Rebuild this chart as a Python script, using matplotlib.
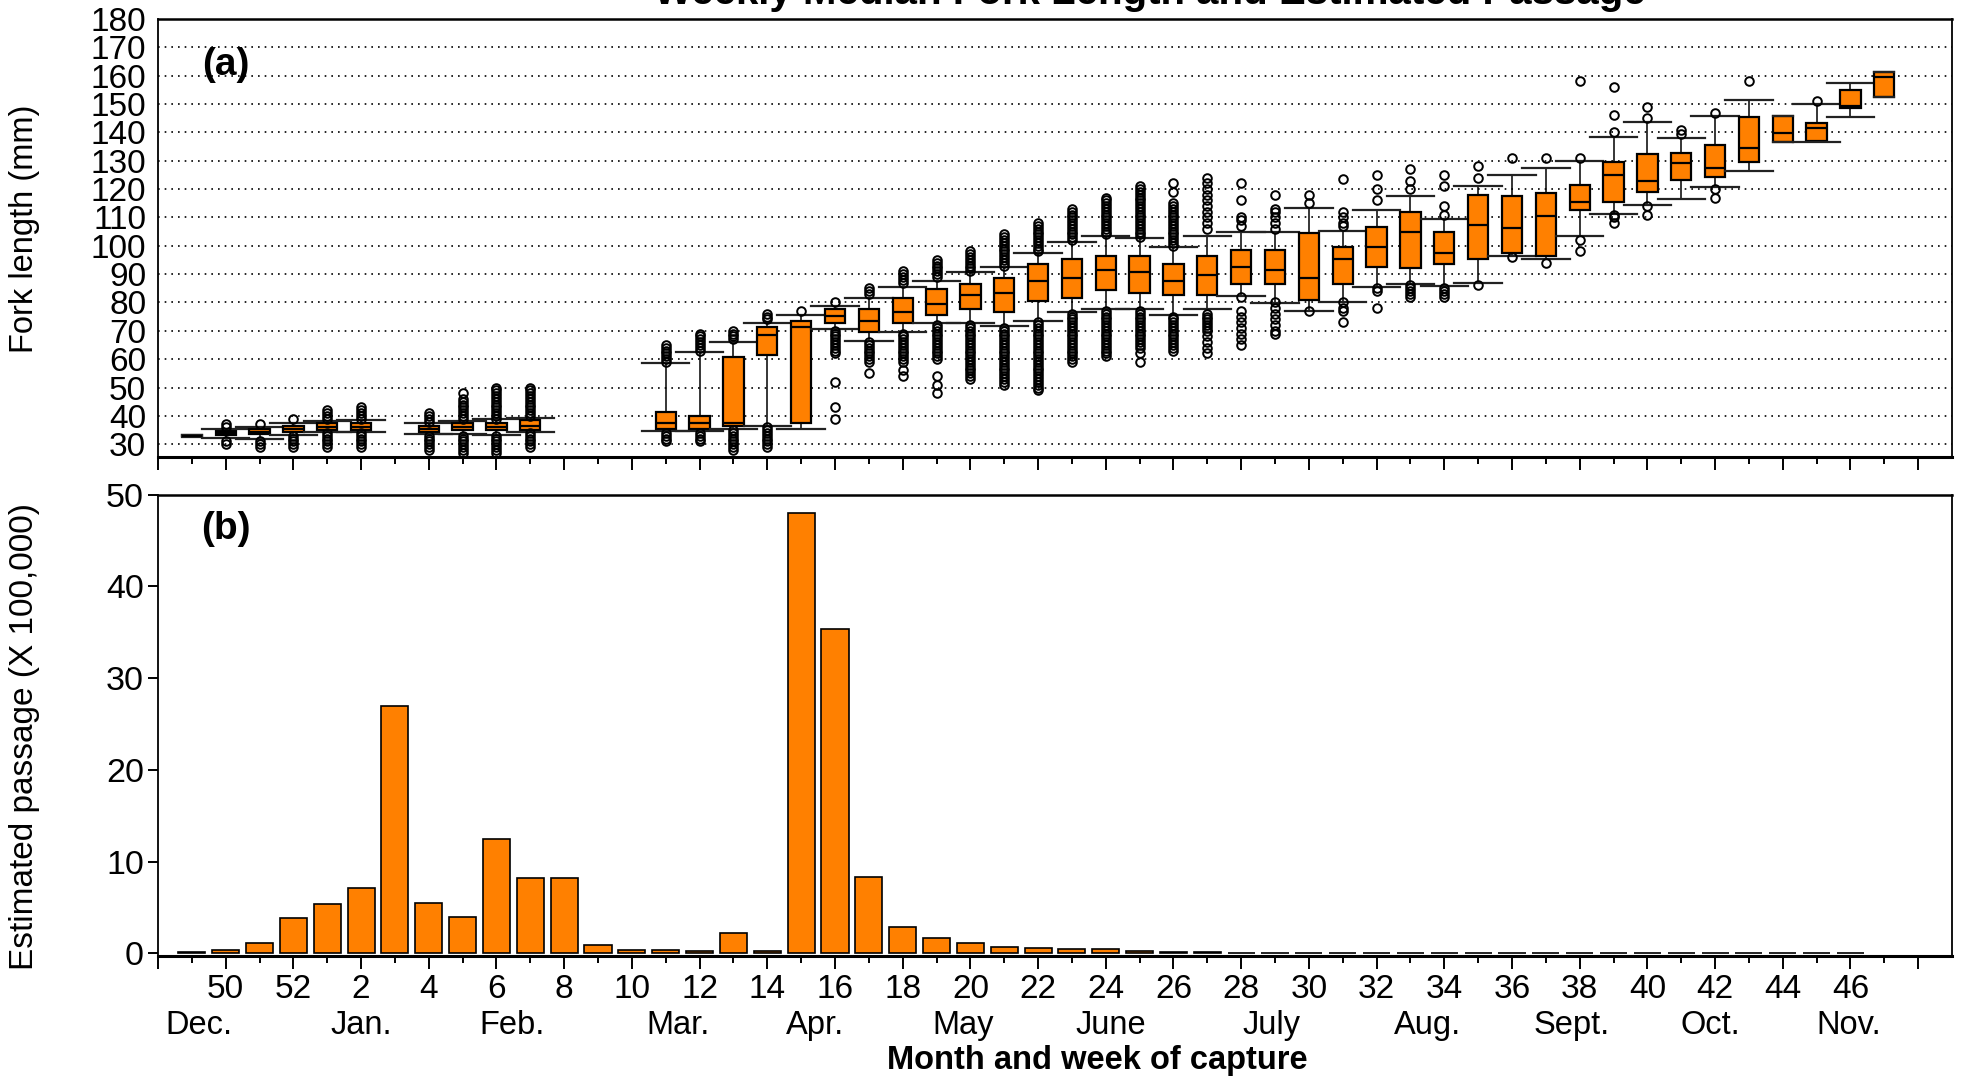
import matplotlib
matplotlib.use('Agg')
import matplotlib.pyplot as plt
from matplotlib.transforms import blended_transform_factory

plt.rcParams['font.family'] = ['Liberation Sans', 'DejaVu Sans']

# semana de captura en cada posicion del eje x (posiciones 1..52)
week_no = [49, 50, 51, 52, 1, 2, 3, 4, 5, 6, 7, 8, 9, 10, 11, 12, 13, 14, 15, 16,
           17, 18, 19, 20, 21, 22, 23, 24, 25, 26, 27, 28, 29, 30, 31, 32, 33, 34,
           35, 36, 37, 38, 39, 40, 41, 42, 43, 44, 45, 46, 47, 48]

month_names = ['Dec.', 'Jan.', 'Feb.', 'Mar.', 'Apr.', 'May', 'June', 'July',
               'Aug.', 'Sept.', 'Oct.', 'Nov.']

# paso estimado (x 100,000), semanas 49 .. 46
passage_weeks = week_no[:50]
passage = [0.15, 0.35, 1.1, 3.8, 5.4, 7.1, 26.9, 5.5, 3.9, 12.5,
           8.2, 8.2, 0.85, 0.35, 0.35, 0.25, 2.25, 0.25, 48.0, 35.3,
           8.35, 2.9, 1.65, 1.15, 0.65, 0.55, 0.45, 0.5, 0.3, 0.15,
           0.1, 0.08, 0.05, 0.05, 0.05, 0.05, 0.05, 0.05, 0.05, 0.05,
           0.05, 0.05, 0.05, 0.05, 0.05, 0.05, 0.05, 0.05, 0.05, 0.05]

# longitud furcal (mm) por semana
box_weeks = [49, 50, 51, 52, 1, 2, 4, 5, 6, 7,
             11, 12, 13, 14, 15, 16, 17, 18, 19, 20,
             21, 22, 23, 24, 25, 26, 27, 28, 29, 30,
             31, 32, 33, 34, 35, 36, 37, 38, 39, 40,
             41, 42, 43, 44, 45, 46, 47]
whis_lo = [32.6, 32.3, 32.0, 33.3, 34.4, 34.4, 33.5, 33.5, 33.3, 34.4,
           34.7, 34.7, 35.3, 36.5, 35.5, 70.6, 66.5, 69.6, 72.6, 72.6,
           71.7, 73.5, 76.7, 77.6, 77.6, 75.5, 77.6, 82.4, 79.8, 77.1,
           80.0, 85.5, 86.5, 85.9, 86.8, 96.5, 95.3, 103.5, 111.2, 114.5,
           116.5, 120.9, 126.5, 136.5, 136.5, 145.5, 152.4]
q1 = [32.8, 33.3, 33.5, 34.2, 35.0, 35.0, 34.2, 35.0, 35.0, 35.0,
      35.5, 35.5, 36.5, 61.5, 37.6, 72.6, 69.6, 72.6, 75.5, 77.6,
      76.5, 80.6, 81.5, 84.5, 83.5, 82.6, 82.6, 86.5, 86.5, 80.9,
      86.5, 92.6, 92.0, 93.5, 95.5, 97.6, 96.5, 112.6, 115.5, 118.8,
      123.3, 124.4, 129.4, 136.5, 137.1, 148.5, 152.4]
median = [33.0, 33.9, 34.4, 35.4, 36.2, 36.2, 35.3, 36.2, 36.2, 36.4,
          37.6, 37.4, 37.6, 68.6, 71.2, 75.3, 73.5, 76.5, 79.6, 82.6,
          83.5, 87.4, 88.5, 91.5, 90.6, 87.4, 89.6, 92.6, 91.5, 88.5,
          95.3, 99.6, 104.7, 97.6, 107.4, 106.1, 110.4, 115.5, 124.9, 122.8,
          129.1, 127.5, 134.5, 139.9, 141.4, 149.4, 159.4]
q3 = [33.2, 34.5, 35.3, 36.4, 37.4, 37.4, 36.5, 37.4, 37.4, 38.5,
      41.4, 39.8, 60.6, 71.5, 73.5, 77.6, 77.6, 81.5, 84.7, 86.5,
      88.5, 93.5, 95.5, 96.5, 96.5, 93.5, 96.5, 98.5, 98.5, 104.4,
      99.4, 106.5, 112.0, 105.0, 118.0, 117.6, 118.5, 121.5, 129.6, 132.4,
      132.9, 135.5, 145.5, 145.9, 143.4, 154.9, 161.4]
whis_hi = [33.4, 35.2, 36.0, 37.4, 38.3, 38.5, 37.4, 38.3, 38.8, 39.4,
           58.6, 62.6, 66.1, 72.6, 75.5, 78.6, 81.5, 85.5, 87.6, 90.6,
           92.6, 97.6, 101.5, 103.5, 102.6, 99.6, 103.5, 104.7, 104.7, 113.5,
           105.3, 112.6, 117.6, 109.6, 121.2, 125.0, 127.5, 130.0, 138.5, 143.5,
           138.0, 145.9, 151.5, 145.9, 150.0, 157.5, 161.4]
outliers = [
    [],
    [36, 37, 31, 30],
    [37, 31, 30, 29],
    [39, 33, 32, 31, 30, 29],
    [39, 40, 41, 42, 34, 33, 32, 31, 30, 29],
    [39, 40, 41, 42, 43, 34, 33, 32, 31, 30, 29],
    [38, 39, 40, 41, 33, 32, 31, 30, 29, 28],
    [39, 40, 41, 42, 43, 44, 45, 46, 48, 33, 32, 31, 30, 29, 28, 27],
    [39, 40, 41, 42, 43, 44, 45, 46, 47, 48, 49, 50, 33, 32, 31, 30, 29, 28, 27],
    [40, 41, 42, 43, 44, 45, 46, 47, 48, 49, 50, 34, 33, 32, 31, 30, 29],
    [59, 60, 61, 62, 63, 64, 65, 34, 33, 32, 31],
    [63, 64, 65, 66, 67, 68, 69, 34, 33, 32, 31],
    [67, 68, 69, 70, 35, 34, 33, 32, 31, 30, 29, 28],
    [74, 75, 76, 36, 35, 34, 33, 32, 31, 30, 29],
    [77],
    [80, 70, 69, 68, 67, 66, 65, 64, 63, 62, 52, 43, 39],
    [83, 84, 85, 66, 65, 64, 63, 62, 61, 60, 59, 55],
    [87, 88, 89, 90, 91, 69, 68, 67, 66, 65, 64, 63, 62, 61, 60, 59, 56, 54],
    [89, 90, 91, 92, 93, 94, 95, 72, 71, 70, 69, 68, 67, 66, 65, 64, 63, 62, 61, 60,
     54, 51, 48],
    [91, 92, 93, 94, 95, 96, 97, 98, 72, 71, 70, 69, 68, 67, 66, 65, 64, 63, 62, 61,
     60, 59, 58, 57, 56, 55, 54, 53],
    [93, 94, 95, 96, 97, 98, 99, 100, 101, 102, 103, 104, 71, 70, 69, 68, 67, 66, 65,
     64, 63, 62, 61, 60, 59, 58, 57, 56, 55, 54, 53, 52, 51],
    [98, 99, 100, 101, 102, 103, 104, 105, 106, 107, 108, 73, 72, 71, 70, 69, 68, 67,
     66, 65, 64, 63, 62, 61, 60, 59, 58, 57, 56, 55, 54, 53, 52, 51, 50, 49],
    [102, 103, 104, 105, 106, 107, 108, 109, 110, 111, 112, 113, 76, 75, 74, 73, 72,
     71, 70, 69, 68, 67, 66, 65, 64, 63, 62, 61, 60, 59],
    [104, 105, 106, 107, 108, 109, 110, 111, 112, 113, 114, 115, 116, 117, 77, 76, 75,
     74, 73, 72, 71, 70, 69, 68, 67, 66, 65, 64, 63, 62, 61],
    [103, 104, 105, 106, 107, 108, 109, 110, 111, 112, 113, 114, 115, 116, 117, 118,
     119, 120, 121, 77, 76, 75, 74, 73, 72, 71, 70, 69, 68, 67, 66, 65, 64, 62, 59],
    [100, 101, 102, 103, 104, 105, 106, 107, 108, 109, 110, 111, 112, 113, 114, 115,
     119, 122, 75, 74, 73, 72, 71, 70, 69, 68, 67, 66, 65, 64, 63],
    [106, 108, 110, 112, 114, 116, 118, 120, 122, 124, 76, 75, 74, 73, 72, 71, 70,
     68, 66, 64, 62],
    [107, 109, 110, 116, 122, 82, 77, 75, 73, 71, 69, 67, 65],
    [106, 108, 110, 112, 113, 118, 80, 78, 76, 74, 72, 70, 69],
    [115, 118, 77],
    [107, 108, 110, 112, 123.5, 80, 78, 77, 73],
    [116, 120, 125, 85, 84, 78],
    [120, 123, 127, 86, 85, 84, 83, 82],
    [111, 114, 121, 125, 85, 84, 83, 82],
    [124, 128, 86],
    [131, 96],
    [131, 94],
    [131, 158, 102, 98],
    [140, 146, 156, 111, 110, 108],
    [145, 149, 114, 111],
    [139.5, 141],
    [147, 120, 117],
    [158],
    [],
    [151],
    [],
    [],
]

naranja = '#FF8000'
pos_of = {w: i + 1 for i, w in enumerate(week_no)}

fig = plt.figure(figsize=(19.65, 10.8), dpi=100)
ax1 = fig.add_axes([0.0804, 0.5769, 0.9130, 0.4055])
ax2 = fig.add_axes([0.0804, 0.1148, 0.9130, 0.4273])

# ---------------- (a) cajas de longitud furcal ----------------
stats = []
for i in range(len(box_weeks)):
    stats.append(dict(whislo=whis_lo[i], q1=q1[i], med=median[i], q3=q3[i],
                      whishi=whis_hi[i], fliers=outliers[i]))
box_pos = [pos_of[w] for w in box_weeks]
cap_w = [0.6 if (w in (49, 44, 47)) else 1.4 for w in box_weeks]

ax1.bxp(stats, positions=box_pos, widths=0.6, capwidths=cap_w, patch_artist=True,
        boxprops=dict(facecolor=naranja, edgecolor='black', linewidth=1.6),
        medianprops=dict(color='black', linewidth=1.6),
        whiskerprops=dict(color='black', linewidth=1.1),
        capprops=dict(color='#222222', linewidth=1.6),
        flierprops=dict(marker='o', markerfacecolor='none', markeredgecolor='black',
                        markersize=6.2, markeredgewidth=1.4))

ax1.set_ylim(25.5, 180)
ax1.set_yticks(range(30, 181, 10))
ax1.yaxis.grid(True, color='black', linestyle=(0, (1, 3)), linewidth=1.2)
ax1.set_axisbelow(True)
ax1.tick_params(axis='y', length=0, pad=8.5, labelsize=24)
ax1.text(0.038, 0.895, '(a)', transform=ax1.transAxes, fontsize=28,
         fontweight='bold', ha='center', va='center')

# ---------------- (b) paso estimado ----------------
ax2.bar([pos_of[w] for w in passage_weeks], passage, width=0.8, color=naranja,
        edgecolor='black', linewidth=1.2, zorder=3)
ax2.set_ylim(-0.3, 50)
ax2.set_yticks(range(0, 51, 10))
ax2.yaxis.grid(True, color='#707070', linestyle=(0, (10, 2, 1, 2)), linewidth=1.3)
for gl in ax2.get_ygridlines():
    if gl.get_ydata()[0] in (0, 50):
        gl.set_visible(False)
ax2.set_axisbelow(True)
ax2.tick_params(axis='y', length=7, width=1.4, pad=3, labelsize=24.5)
ax2.text(0.038, 0.925, '(b)', transform=ax2.transAxes, fontsize=28,
         fontweight='bold', ha='center', va='center')

# ejes x compartidos: marcas largas en semanas pares, cortas en impares
major_pos = list(range(0, 53, 2))
minor_pos = list(range(1, 53, 2))
for ax in (ax1, ax2):
    ax.set_xlim(0, 53)
    ax.set_xticks(major_pos)
    ax.set_xticks(minor_pos, minor=True)
    ax.tick_params(axis='x', which='major', direction='out', length=9, width=1.4)
    ax.tick_params(axis='x', which='minor', direction='out', length=5, width=1.4)
    for s in ax.spines.values():
        s.set_linewidth(1.3)
    ax.spines['bottom'].set_linewidth(2.2)
    ax.spines['top'].set_linewidth(1.8)

ax1.set_xticklabels([])
week_labels = ['' if p in (0, 52) else str(week_no[p - 1]) for p in major_pos]
ax2.set_xticklabels(week_labels)
ax2.tick_params(axis='x', which='major', labelsize=24, pad=4)

trans = blended_transform_factory(ax2.transData, ax2.transAxes)
month_x = [1.2, 6.0, 10.45, 15.35, 19.4, 23.8, 28.15, 32.9, 37.5, 41.75, 45.85, 49.95]
for nombre, x in zip(month_names, month_x):
    ax2.text(x, -0.15, nombre, transform=trans, fontsize=23.5, ha='center', va='center')

ax2.text(27.75, -0.226, 'Month and week of capture', transform=trans, fontsize=23.5,
         fontweight='bold', ha='center', va='center')

fig.text(0.0127, 0.788, 'Fork length (mm)', rotation=90, fontsize=23.5,
         ha='center', va='center')
fig.text(0.0127, 0.3176, 'Estimated passage (X 100,000)', rotation=90, fontsize=24,
         ha='center', va='center')
fig.text(0.585, 1 - 4 / 1080, 'Weekly Median Fork Length and Estimated Passage',
         fontsize=29, fontweight='bold', ha='center', va='baseline')

fig.savefig('out.png', dpi=100)
